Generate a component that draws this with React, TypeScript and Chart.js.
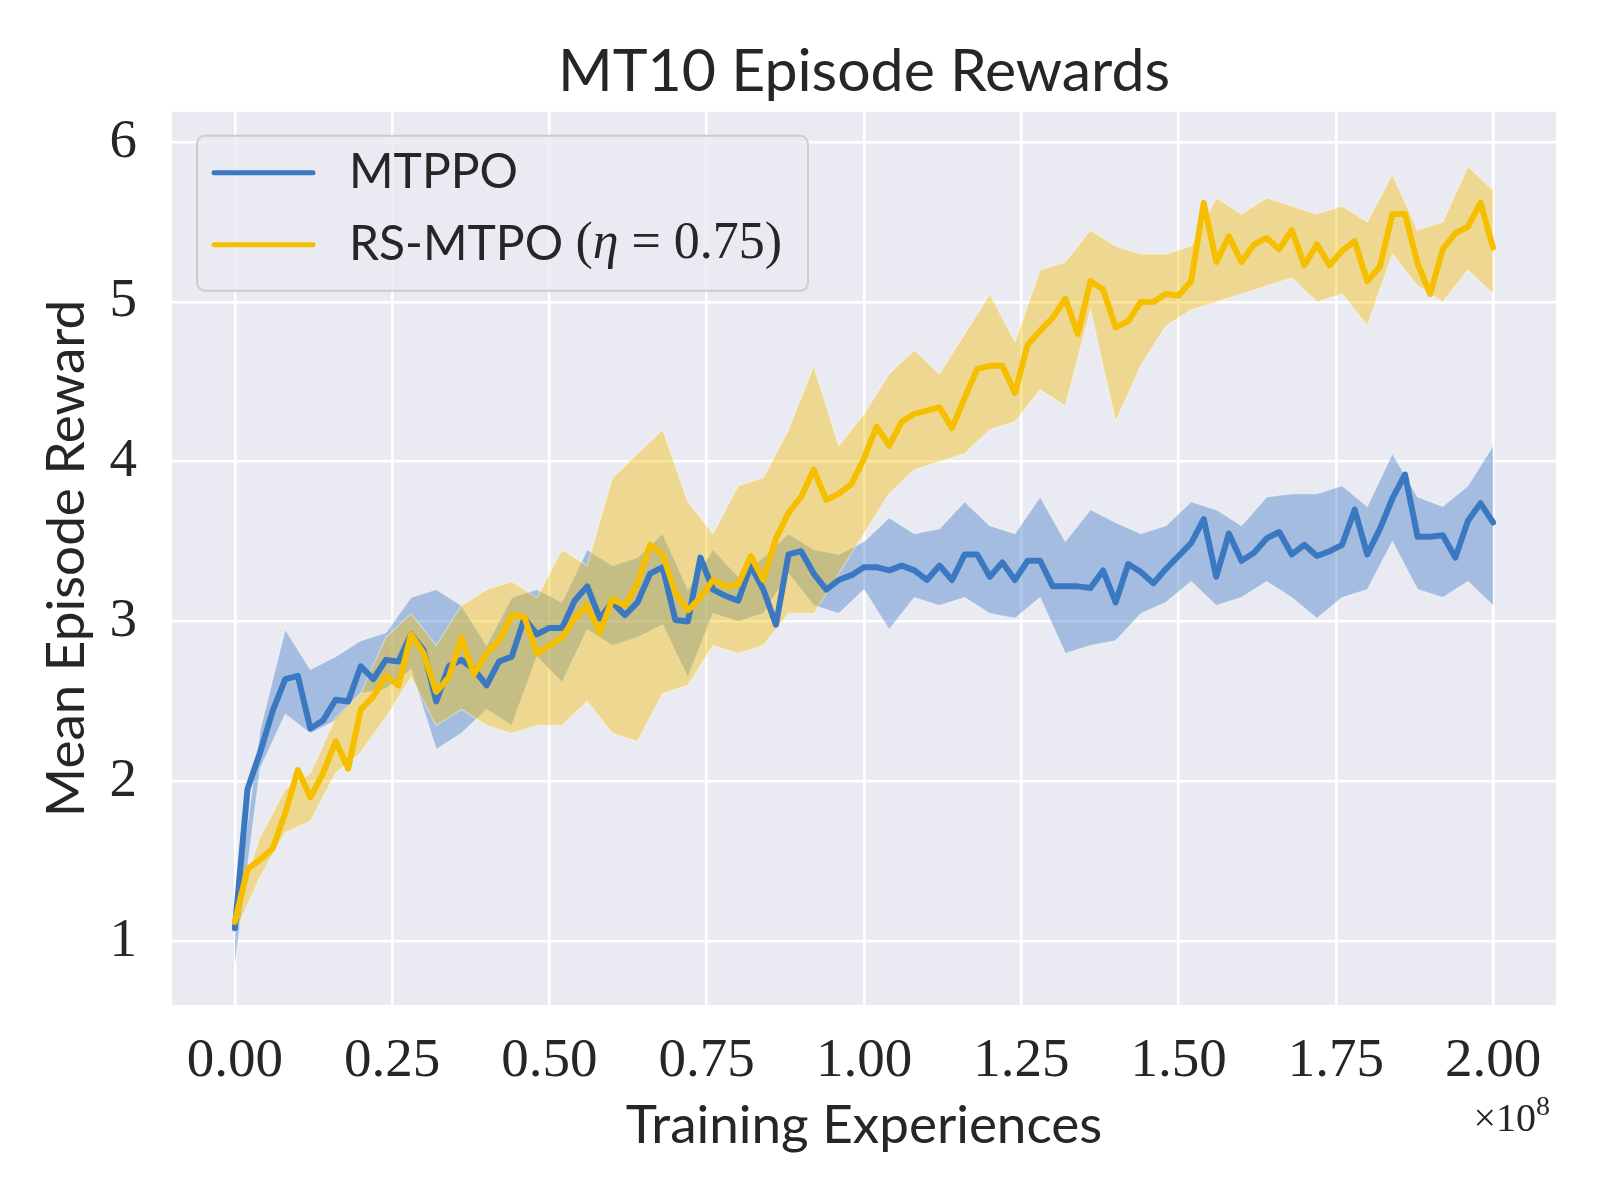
import { useEffect, useRef } from "react"
import { Chart, registerables } from "chart.js"

Chart.register(...registerables)

// x is in units of 1e8 training experiences
const lineStep = 0.02
const bandStep = 0.04

const mtppoMean = [
  1.08, 1.95, 2.18, 2.44, 2.64, 2.66, 2.33, 2.38, 2.51, 2.5,
  2.72, 2.64, 2.76, 2.75, 2.92, 2.82, 2.5, 2.72, 2.76, 2.7,
  2.6, 2.75, 2.78, 3.02, 2.92, 2.96, 2.96, 3.13, 3.22, 3.02,
  3.12, 3.04, 3.12, 3.3, 3.34, 3.01, 3.0, 3.4, 3.2, 3.16,
  3.13, 3.35, 3.2, 2.98, 3.42, 3.44, 3.3, 3.2, 3.26, 3.29,
  3.34, 3.34, 3.32, 3.35, 3.32, 3.26, 3.35, 3.26, 3.42, 3.42,
  3.28, 3.37, 3.26, 3.38, 3.38, 3.22, 3.22, 3.22, 3.21, 3.32,
  3.12, 3.36, 3.31, 3.24, 3.33, 3.41, 3.49, 3.64, 3.28, 3.55,
  3.38, 3.43, 3.52, 3.56, 3.42, 3.48, 3.41, 3.44, 3.48, 3.7,
  3.42, 3.58, 3.77, 3.92, 3.53, 3.53, 3.54, 3.4, 3.63, 3.74,
  3.62,
]

const rsMtpoMean = [
  1.12, 1.45, 1.51, 1.58, 1.8, 2.07, 1.9, 2.05, 2.25, 2.08,
  2.45, 2.53, 2.66, 2.6, 2.92, 2.8, 2.56, 2.65, 2.9, 2.67,
  2.8, 2.88, 3.04, 3.03, 2.8, 2.85, 2.9, 3.02, 3.1, 2.93,
  3.14, 3.1, 3.24, 3.48, 3.42, 3.18, 3.07, 3.15, 3.26, 3.22,
  3.23, 3.41, 3.26, 3.52, 3.68, 3.78, 3.95, 3.76, 3.8, 3.86,
  4.02, 4.22, 4.1, 4.25, 4.3, 4.32, 4.34, 4.21, 4.4, 4.58,
  4.6, 4.6, 4.43, 4.73, 4.82, 4.9, 5.02, 4.8, 5.13, 5.08,
  4.84, 4.88, 5.0, 5.0, 5.05, 5.04, 5.13, 5.62, 5.25, 5.41,
  5.25, 5.36, 5.4, 5.33, 5.45, 5.23, 5.36, 5.23, 5.32, 5.38,
  5.13, 5.22, 5.55, 5.55, 5.24, 5.05, 5.33, 5.43, 5.47, 5.62,
  5.34,
]

const mtppoLow = [
  0.85, 2.08, 2.42, 2.3, 2.38, 2.55, 2.58, 2.7, 2.2, 2.3,
  2.45, 2.35, 2.78, 2.62, 2.95, 2.85, 2.9, 2.98, 2.65, 3.05,
  3.0, 3.05, 3.3, 3.1, 3.05, 3.2, 2.95, 3.15, 3.1, 3.15,
  3.05, 3.02, 3.15, 2.8, 2.85, 2.88, 3.05, 3.12, 3.25, 3.1,
  3.15, 3.25, 3.15, 3.02, 3.15, 3.2, 3.5, 3.2, 3.15, 3.25,
  3.1,
]

const mtppoHigh = [
  1.15, 2.32, 2.95, 2.7, 2.78, 2.88, 2.93, 3.15, 3.2, 3.1,
  2.85, 3.15, 3.2, 3.12, 3.45, 3.35, 3.4, 3.55, 3.2, 3.45,
  3.28, 3.4, 3.55, 3.45, 3.42, 3.5, 3.65, 3.55, 3.58, 3.75,
  3.6, 3.55, 3.78, 3.5, 3.7, 3.62, 3.55, 3.6, 3.75, 3.7,
  3.6, 3.78, 3.8, 3.8, 3.85, 3.72, 4.05, 3.78, 3.72, 3.85,
  4.1,
]

const rsMtpoLow = [
  1.05, 1.4, 1.68, 1.75, 2.05, 2.18, 2.4, 2.65, 2.35, 2.45,
  2.35, 2.3, 2.35, 2.35, 2.5, 2.3, 2.25, 2.55, 2.6, 2.85,
  2.8, 2.85, 3.05, 3.05, 3.3, 3.55, 3.8, 3.95, 4.0, 4.05,
  4.2, 4.25, 4.45, 4.35, 4.95, 4.25, 4.6, 4.85, 4.95, 5.0,
  5.05, 5.1, 5.15, 5.0, 5.05, 4.85, 5.3, 5.1, 5.0, 5.2,
  5.05,
]

const rsMtpoHigh = [
  1.2, 1.65, 1.95, 2.05, 2.4, 2.55, 2.9, 3.05, 2.85, 3.1,
  3.2, 3.25, 3.15, 3.45, 3.35, 3.9, 4.05, 4.2, 3.75, 3.55,
  3.85, 3.9, 4.2, 4.6, 4.1, 4.3, 4.55, 4.7, 4.55, 4.8,
  5.05, 4.75, 5.2, 5.25, 5.45, 5.35, 5.3, 5.3, 5.35, 5.65,
  5.55, 5.65, 5.6, 5.55, 5.6, 5.5, 5.8, 5.45, 5.5, 5.85,
  5.7,
]

const xTickValues = [0, 0.25, 0.5, 0.75, 1.0, 1.25, 1.5, 1.75, 2.0]
const yTickValues = [1, 2, 3, 4, 5, 6]

const seriesNames = ["MTPPO", "RS-MTPO (η = 0.75)"]
const seriesColors = ["#3a78c2", "#f5bf00"]
const bandColors = ["rgba(58, 120, 194, 0.4)", "rgba(245, 191, 0, 0.4)"]

const SANS = "Lato, 'Noto Sans', sans-serif"
const SERIF = "'Liberation Serif', 'DejaVu Serif', serif"
const TEXT = "#262626"

const toPoints = (values: number[], step: number) =>
  values.map((y, i) => ({ x: Math.round(i * step * 1000) / 1000, y }))

const axesBackground = {
  id: "axesBackground",
  beforeDraw(chart: Chart) {
    const { ctx, chartArea } = chart
    ctx.save()
    ctx.fillStyle = "#ffffff"
    ctx.fillRect(0, 0, chart.width, chart.height)
    ctx.fillStyle = "#eaeaf2"
    ctx.fillRect(chartArea.left, chartArea.top, chartArea.right - chartArea.left, chartArea.bottom - chartArea.top)
    ctx.restore()
  },
}

// legend sits inside the axes like matplotlib's "upper left"
const insideLegend = {
  id: "insideLegend",
  afterDatasetsDraw(chart: Chart) {
    const { ctx, chartArea } = chart
    const x0 = chartArea.left + 25
    const y0 = chartArea.top + 24
    const w = 611
    const h = 155
    const r = 8
    ctx.save()
    ctx.beginPath()
    ctx.moveTo(x0 + r, y0)
    ctx.arcTo(x0 + w, y0, x0 + w, y0 + h, r)
    ctx.arcTo(x0 + w, y0 + h, x0, y0 + h, r)
    ctx.arcTo(x0, y0 + h, x0, y0, r)
    ctx.arcTo(x0, y0, x0 + w, y0, r)
    ctx.closePath()
    ctx.fillStyle = "rgba(234, 234, 242, 0.8)"
    ctx.fill()
    ctx.strokeStyle = "#cccccc"
    ctx.lineWidth = 2
    ctx.stroke()

    seriesNames.forEach((name, k) => {
      const y = y0 + 37 + k * 72
      ctx.beginPath()
      ctx.moveTo(x0 + 17, y)
      ctx.lineTo(x0 + 116, y)
      ctx.strokeStyle = seriesColors[k]
      ctx.lineWidth = 5
      ctx.lineCap = "round"
      ctx.stroke()

      ctx.fillStyle = TEXT
      ctx.textBaseline = "middle"
      ctx.textAlign = "left"
      let x = x0 + 152
      const cut = name.indexOf("(")
      const plain = cut >= 0 ? name.slice(0, cut) : name
      ctx.font = `48px ${SANS}`
      ctx.fillText(plain, x, y)
      x += ctx.measureText(plain).width
      if (cut >= 0) {
        const math = name.slice(cut)
        for (const ch of math) {
          ctx.font = ch === "η" ? `italic 52px ${SERIF}` : `52px ${SERIF}`
          ctx.fillText(ch, x, y)
          x += ctx.measureText(ch).width
        }
      }
    })
    ctx.restore()
  },
}

const offsetText = {
  id: "offsetText",
  afterDraw(chart: Chart) {
    const { ctx, chartArea } = chart
    ctx.save()
    ctx.fillStyle = TEXT
    ctx.textBaseline = "alphabetic"
    ctx.textAlign = "left"
    ctx.font = `28px ${SERIF}`
    const expW = ctx.measureText("8").width
    ctx.font = `40px ${SERIF}`
    const baseW = ctx.measureText("×10").width
    const right = chartArea.right - 6
    const baseY = chartArea.bottom + 126
    ctx.fillText("×10", right - expW - baseW, baseY)
    ctx.font = `28px ${SERIF}`
    ctx.fillText("8", right - expW, baseY - 16)
    ctx.restore()
  },
}

export default function App() {
  const canvasRef = useRef<HTMLCanvasElement>(null)
  const chartRef = useRef<Chart | null>(null)

  useEffect(() => {
    if (!canvasRef.current) return
    if (chartRef.current) chartRef.current.destroy()

    const lineBase = {
      pointRadius: 0,
      borderWidth: 6,
      borderJoinStyle: "round" as const,
      borderCapStyle: "round" as const,
      tension: 0,
      fill: false,
    }
    const bandBase = {
      pointRadius: 0,
      borderWidth: 1.5,
      borderColor: "rgba(255, 255, 255, 0.35)",
      tension: 0,
    }

    chartRef.current = new Chart(canvasRef.current, {
      type: "line",
      data: {
        datasets: [
          { ...lineBase, label: seriesNames[1], data: toPoints(rsMtpoMean, lineStep), borderColor: seriesColors[1], order: 0 },
          { ...lineBase, label: seriesNames[0], data: toPoints(mtppoMean, lineStep), borderColor: seriesColors[0], order: 1 },
          { ...bandBase, label: "rs-low", data: toPoints(rsMtpoLow, bandStep), fill: false, order: 2 },
          { ...bandBase, label: "rs-high", data: toPoints(rsMtpoHigh, bandStep), fill: 2, backgroundColor: bandColors[1], order: 2 },
          { ...bandBase, label: "mt-low", data: toPoints(mtppoLow, bandStep), fill: false, order: 3 },
          { ...bandBase, label: "mt-high", data: toPoints(mtppoHigh, bandStep), fill: 4, backgroundColor: bandColors[0], order: 3 },
        ],
      },
      options: {
        animation: false,
        responsive: false,
        devicePixelRatio: 1,
        layout: { padding: { left: 0, right: 44, top: 0, bottom: 0 } },
        plugins: {
          legend: { display: false },
          tooltip: { enabled: false },
          title: {
            display: true,
            fullSize: false,
            text: "MT10 Episode Rewards",
            color: TEXT,
            font: { family: SANS, size: 59, weight: "normal" },
            padding: { top: 37, bottom: 4 },
          },
        },
        scales: {
          x: {
            type: "linear",
            min: -0.1,
            max: 2.1,
            afterBuildTicks: (scale) => {
              scale.ticks = xTickValues.map((value) => ({ value }))
            },
            afterFit: (scale) => {
              scale.height = 195
            },
            ticks: {
              autoSkip: false,
              maxRotation: 0,
              padding: 24,
              color: TEXT,
              font: { family: SERIF, size: 55 },
              callback: (value) => Number(value).toFixed(2),
            },
            grid: { color: "#ffffff", lineWidth: 2.5, drawTicks: false },
            border: { display: false },
            title: {
              display: true,
              text: "Training Experiences",
              color: TEXT,
              font: { family: SANS, size: 53 },
              padding: { top: 0, bottom: 42 },
            },
          },
          y: {
            type: "linear",
            min: 0.6,
            max: 6.19,
            afterBuildTicks: (scale) => {
              scale.ticks = yTickValues.map((value) => ({ value }))
            },
            afterFit: (scale) => {
              scale.width = 172
            },
            ticks: {
              padding: 35,
              color: TEXT,
              font: { family: SERIF, size: 55 },
              callback: (value) => String(value),
            },
            grid: { color: "#ffffff", lineWidth: 2.5, drawTicks: false },
            border: { display: false },
            title: {
              display: true,
              text: "Mean Episode Reward",
              color: TEXT,
              font: { family: SANS, size: 53 },
              padding: { top: 35, bottom: 0 },
            },
          },
        },
      },
      plugins: [axesBackground, insideLegend, offsetText],
    })

    return () => {
      if (chartRef.current) {
        chartRef.current.destroy()
        chartRef.current = null
      }
    }
  }, [])

  return (
    <div style={{ position: "absolute", left: 0, top: 0, width: 1600, height: 1200, background: "#ffffff" }}>
      <canvas ref={canvasRef} width={1600} height={1200} />
    </div>
  )
}
